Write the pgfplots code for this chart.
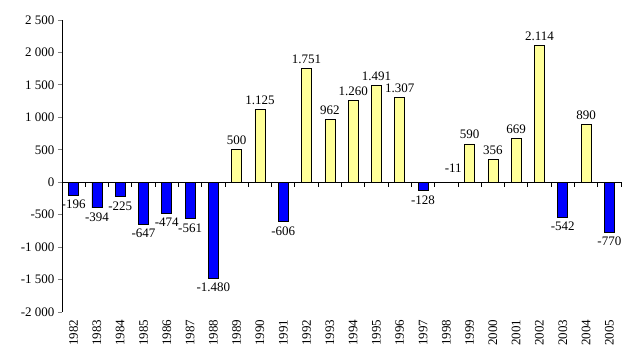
\documentclass[border=0pt]{standalone}
\usepackage{pgfplots}
\pgfplotsset{compat=1.18}
\usepackage{fontspec}
\setmainfont{Liberation Serif}
\definecolor{negblue}{RGB}{0,0,255}
\definecolor{posyellow}{RGB}{255,255,153}
\begin{document}
\begin{tikzpicture}
\useasboundingbox (-62bp,-43bp) rectangle (574bp,312bp);
\begin{axis}[
  scale only axis,
  width=559bp, height=292bp,
  xmin=-0.5, xmax=23.5,
  ymin=-2000, ymax=2500,
  ytick={-2000,-1500,...,2500},
  axis y line*=left,
  axis x line*=bottom,
  x axis line style={draw=none},
  y axis line style={line width=0.9pt},
  xtick={0,...,23},
  xticklabels={1982,1983,1984,1985,1986,1987,1988,1989,1990,1991,1992,1993,1994,1995,1996,1997,1998,1999,2000,2001,2002,2003,2004,2005},
  x tick label style={rotate=90, anchor=east, font=\fontsize{13bp}{15bp}\selectfont},
  y tick label style={font=\fontsize{13bp}{15bp}\selectfont},
  major x tick style={draw=none},
  ytick style={line width=0.9pt},
  tick align=outside,
  major tick length=4bp,
  /pgf/number format/assume math mode=true,
  yticklabel style={/pgf/number format/1000 sep={\ }},
  ybar, bar width=10bp, bar shift=0pt,
  clip=false,
  nodes near coords,
  nodes near coords style={font=\fontsize{13bp}{15bp}\selectfont, /pgf/number format/1000 sep={.}, /pgf/number format/assume math mode=true, inner sep=4.5bp},
]
\addplot[fill=negblue, draw=black, line width=0.7pt] coordinates {
 (0,-196) (1,-394) (2,-225) (3,-647) (4,-474) (5,-561) (6,-1480)
 (9,-606) (15,-128) (21,-542) (23,-770)};
\addplot[fill=posyellow, draw=black, line width=0.7pt] coordinates {
 (7,500) (8,1125) (10,1751) (11,962) (12,1260) (13,1491) (14,1307)
 (17,590) (18,356) (19,669) (20,2114) (22,890)};
\addplot[fill=negblue, draw=none, nodes near coords align={above}, every node near coord/.append style={xshift=7bp, yshift=6bp}] coordinates {(16,-11)};
\end{axis}
\draw[line width=0.9pt] (0bp,129.78bp) -- (559bp,129.78bp);
\foreach \i in {0,...,24}{
  \draw[line width=0.9pt] ({\i*23.2917bp},129.78bp) -- ({\i*23.2917bp},125.3bp);
}
\end{tikzpicture}
\end{document}
